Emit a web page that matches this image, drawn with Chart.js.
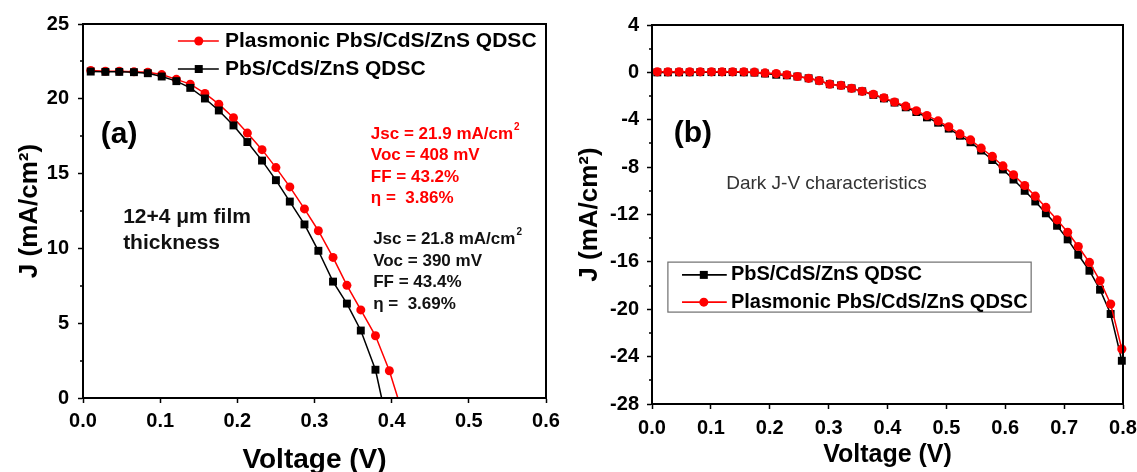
<!DOCTYPE html>
<html>
<head>
<meta charset="utf-8">
<script src="https://cdn.jsdelivr.net/npm/chart.js@4"></script>
<style>
  html, body { margin: 0; padding: 0; background: #fff; }
  #wrap { position: relative; width: 1137px; height: 472px; overflow: hidden; }
  canvas { position: absolute; top: 0; }
  #chartA { left: 0; }
  #chartB { left: 560px; }
</style>
</head>
<body>
<div id="wrap">
  <canvas id="chartA" width="560" height="472"></canvas>
  <canvas id="chartB" width="577" height="472"></canvas>
</div>
<script>
// ---- panel (a): illuminated J-V ----
const voltsA = [0.010, 0.029, 0.047, 0.066, 0.084, 0.102, 0.121, 0.139, 0.158, 0.176, 0.195,
                0.213, 0.232, 0.250, 0.268, 0.287, 0.305, 0.324, 0.342, 0.360, 0.379, 0.397];
const jPlasmonicA = [21.89, 21.84, 21.84, 21.80, 21.78, 21.62, 21.30, 20.98, 20.36, 19.64, 18.73,
                     17.71, 16.60, 15.40, 14.11, 12.64, 11.18, 9.40, 7.53, 5.89, 4.16, 1.82];
const jPlainA = [21.82, 21.80, 21.80, 21.78, 21.71, 21.49, 21.18, 20.73, 20.02, 19.22, 18.22,
                 17.11, 15.87, 14.56, 13.13, 11.60, 9.84, 7.78, 6.31, 4.51, 1.89];
const vocPlasmonic = 0.408;
const vocPlain = 0.387;
const xTicksA = [0, 0.6, 0.1];
const yTicksA = [0, 25, 5];

// ---- panel (b): dark J-V ----
const voltsB = [0.009, 0.027, 0.046, 0.064, 0.082, 0.101, 0.119, 0.137, 0.156, 0.174, 0.192,
                0.211, 0.229, 0.247, 0.266, 0.284, 0.302, 0.321, 0.339, 0.357, 0.376, 0.394,
                0.412, 0.431, 0.449, 0.467, 0.486, 0.504, 0.523, 0.541, 0.559, 0.578, 0.596,
                0.614, 0.633, 0.651, 0.669, 0.688, 0.706, 0.724, 0.743, 0.761, 0.779, 0.798];
const jPlasmonicB = [0.05, 0.05, 0.05, 0.05, 0.05, 0.05, 0.05, 0.05, 0.05, 0.02, -0.05,
                     -0.1, -0.2, -0.35, -0.5, -0.7, -1.0, -1.1, -1.35, -1.6, -1.85, -2.15,
                     -2.5, -2.85, -3.25, -3.65, -4.1, -4.6, -5.2, -5.7, -6.4, -7.1, -7.9,
                     -8.65, -9.55, -10.45, -11.4, -12.45, -13.5, -14.7, -16.05, -17.6, -19.56, -23.36];
const jPlainB = [0.0, 0.0, 0.0, 0.0, 0.02, 0.02, 0.02, 0.02, 0.0, -0.02, -0.1,
                 -0.2, -0.25, -0.35, -0.5, -0.7, -1.0, -1.1, -1.35, -1.6, -1.9, -2.2,
                 -2.55, -2.95, -3.35, -3.8, -4.25, -4.75, -5.35, -5.9, -6.6, -7.4, -8.2,
                 -9.05, -10.0, -10.9, -11.9, -12.95, -14.1, -15.4, -16.75, -18.35, -20.4, -24.35];
const xTicksB = [0, 0.8, 0.1];
const yTicksB = [-28, 4, 4];

const labelPlain = 'PbS/CdS/ZnS QDSC';
const labelPlasmonic = 'Plasmonic PbS/CdS/ZnS QDSC';

const FONT = '"Liberation Sans", Arial, sans-serif';
const RED = '#ff0000';

function toPoints(xs, ys) {
  return ys.map((y, i) => ({ x: xs[i], y: y }));
}

// draw text, "^" marks a superscript tail
function drawRich(ctx, text, x, y, size, weight, color) {
  const parts = text.split('^');
  ctx.fillStyle = color;
  ctx.textBaseline = 'middle';
  ctx.textAlign = 'left';
  ctx.font = weight + ' ' + size + 'px ' + FONT;
  ctx.fillText(parts[0], x, y);
  if (parts[1]) {
    const w = ctx.measureText(parts[0]).width;
    ctx.font = weight + ' ' + Math.round(size * 0.6) + 'px ' + FONT;
    ctx.fillText(parts[1], x + w + 1, y - size * 0.38);
  }
}

function drawMarker(ctx, style, x, y, color) {
  ctx.fillStyle = color;
  ctx.beginPath();
  if (style === 'circle') ctx.arc(x, y, 4.5, 0, Math.PI * 2);
  else ctx.rect(x - 4, y - 4, 8, 8);
  ctx.fill();
}

// frame, minor ticks, texts and legend
const decorPlugin = {
  id: 'decor',
  afterDraw(chart, args, opts) {
    const { ctx, chartArea: a, scales } = chart;
    const sx = scales.x, sy = scales.y;
    ctx.save();
    ctx.strokeStyle = '#000';
    ctx.lineWidth = 2;
    ctx.strokeRect(a.left, a.top, a.right - a.left, a.bottom - a.top);

    // minor ticks on the y axis, half way between majors
    ctx.lineWidth = 1.5;
    ctx.beginPath();
    for (let v = sy.min + opts.yStep / 2; v < sy.max; v += opts.yStep) {
      const py = Math.round(sy.getPixelForValue(v));
      ctx.moveTo(a.left, py);
      ctx.lineTo(a.left - 3, py);
    }
    ctx.stroke();

    (opts.texts || []).forEach(t => {
      drawRich(ctx, t.text, sx.getPixelForValue(t.x), sy.getPixelForValue(t.y),
               t.size, t.weight, t.color);
    });

    const lg = opts.legend;
    if (lg) {
      if (lg.box) {
        const x1 = sx.getPixelForValue(lg.box[0]), x2 = sx.getPixelForValue(lg.box[1]);
        const y1 = sy.getPixelForValue(lg.box[2]), y2 = sy.getPixelForValue(lg.box[3]);
        ctx.strokeStyle = '#6e6e6e';
        ctx.lineWidth = 1.2;
        ctx.strokeRect(x1, y1, x2 - x1, y2 - y1);
      }
      lg.items.forEach(it => {
        const py = sy.getPixelForValue(it.y);
        ctx.strokeStyle = it.color;
        ctx.lineWidth = 1.6;
        ctx.beginPath();
        ctx.moveTo(sx.getPixelForValue(lg.line[0]), py);
        ctx.lineTo(sx.getPixelForValue(lg.line[1]), py);
        ctx.stroke();
        drawMarker(ctx, it.style, sx.getPixelForValue(lg.mark), py, it.color);
        drawRich(ctx, it.label, sx.getPixelForValue(lg.textX), py, lg.size, 'bold', '#000');
      });
    }
    ctx.restore();
  }
};

function axisOpts(range, fmt, title, titleSize, titlePad, tickPad, fit) {
  return {
    type: 'linear',
    min: range[0],
    max: range[1],
    ticks: {
      stepSize: range[2],
      callback: fmt,
      font: { family: FONT, size: 20, weight: 'bold' },
      color: '#000',
      padding: tickPad,
      maxRotation: 0,
      autoSkip: false
    },
    grid: { display: true, drawOnChartArea: false, drawTicks: true, tickLength: 5, tickWidth: 1.5, tickColor: '#000' },
    border: { display: true, color: '#000', width: 2 },
    title: {
      display: true,
      text: title,
      color: '#000',
      font: { family: FONT, size: titleSize, weight: 'bold', lineHeight: 1 },
      padding: titlePad
    },
    afterFit: fit
  };
}

function lineSet(label, data, color, style, radius, order) {
  return {
    label: label,
    data: data,
    borderColor: color,
    backgroundColor: color,
    borderWidth: 1.5,
    pointStyle: style,
    pointRadius: radius,
    pointBorderWidth: 0,
    tension: 0,
    clip: false,
    order: order
  };
}

// panel (a)
const plasmonicA = toPoints(voltsA, jPlasmonicA).concat([{ x: vocPlasmonic, y: 0 }]);
const plainA = toPoints(voltsA, jPlainA).concat([{ x: vocPlain, y: 0 }]);

new Chart(document.getElementById('chartA'), {
  type: 'line',
  data: {
    datasets: [
      lineSet(labelPlain, plainA, '#000', 'rect', c => c.dataIndex < jPlainA.length ? 5.6 : 0, 0),
      lineSet(labelPlasmonic, plasmonicA, RED, 'circle', c => c.dataIndex < jPlasmonicA.length ? 4.5 : 0, 1)
    ]
  },
  options: {
    responsive: false,
    animation: false,
    events: [],
    layout: { padding: { left: 0, right: 14, top: 24, bottom: 0 } },
    plugins: {
      legend: { display: false },
      tooltip: { enabled: false },
      decor: {
        yStep: yTicksA[2],
        texts: [
          { text: '(a)', x: 0.023, y: 17.6, size: 30, weight: 'bold', color: '#000' },
          { text: 'Jsc = 21.9 mA/cm^2', x: 0.373, y: 17.65, size: 17, weight: 'bold', color: RED },
          { text: 'Voc = 408 mV', x: 0.373, y: 16.24, size: 17, weight: 'bold', color: RED },
          { text: 'FF = 43.2%', x: 0.373, y: 14.77, size: 17, weight: 'bold', color: RED },
          { text: '\u03b7 =  3.86%', x: 0.373, y: 13.37, size: 17, weight: 'bold', color: RED },
          { text: 'Jsc = 21.8 mA/cm^2', x: 0.376, y: 10.63, size: 17, weight: 'bold', color: '#111' },
          { text: 'Voc = 390 mV', x: 0.376, y: 9.16, size: 17, weight: 'bold', color: '#111' },
          { text: 'FF = 43.4%', x: 0.376, y: 7.75, size: 17, weight: 'bold', color: '#111' },
          { text: '\u03b7 =  3.69%', x: 0.376, y: 6.28, size: 17, weight: 'bold', color: '#111' },
          { text: '12+4 \u03bcm film', x: 0.052, y: 12.1, size: 21, weight: 'bold', color: '#111' },
          { text: 'thickness', x: 0.052, y: 10.35, size: 21, weight: 'bold', color: '#111' }
        ],
        legend: {
          line: [0.123, 0.176], mark: 0.150, textX: 0.184, size: 21,
          items: [
            { label: labelPlasmonic, color: RED, style: 'circle', y: 23.86 },
            { label: labelPlain, color: '#000', style: 'rect', y: 21.99 }
          ]
        }
      }
    },
    scales: {
      x: axisOpts(xTicksA, v => v.toFixed(1), 'Voltage (V)', 28, { top: 0, bottom: -2 }, 6,
        s => { s.height = 74; s.paddingLeft = 0; s.paddingRight = 0; }),
      y: axisOpts(yTicksA, v => String(v), 'J (mA/cm\u00b2)', 26, { top: 17, bottom: 0 }, 9,
        s => { s.width = 83; s.paddingTop = 0; s.paddingBottom = 0; })
    }
  },
  plugins: [decorPlugin]
});

// panel (b)
new Chart(document.getElementById('chartB'), {
  type: 'line',
  data: {
    datasets: [
      lineSet(labelPlain, toPoints(voltsB, jPlainB), '#000', 'rect', 5.6, 1),
      lineSet(labelPlasmonic, toPoints(voltsB, jPlasmonicB), RED, 'circle', 4.6, 0)
    ]
  },
  options: {
    responsive: false,
    animation: false,
    events: [],
    layout: { padding: { left: 0, right: 14, top: 25, bottom: 0 } },
    plugins: {
      legend: { display: false },
      tooltip: { enabled: false },
      decor: {
        yStep: yTicksB[2],
        texts: [
          { text: '(b)', x: 0.037, y: -5.2, size: 30, weight: 'bold', color: '#000' },
          { text: 'Dark J-V characteristics', x: 0.126, y: -9.43, size: 19, weight: 'normal', color: '#333' }
        ],
        legend: {
          box: [0.027, 0.644, -16.02, -20.24],
          line: [0.051, 0.127], mark: 0.088, textX: 0.134, size: 20,
          items: [
            { label: labelPlain, color: '#000', style: 'rect', y: -17.1 },
            { label: labelPlasmonic, color: RED, style: 'circle', y: -19.4 }
          ]
        }
      }
    },
    scales: {
      x: axisOpts(xTicksB, v => v.toFixed(1), 'Voltage (V)', 25, { top: 0, bottom: 4 }, 7,
        s => { s.height = 68; s.paddingLeft = 0; s.paddingRight = 0; }),
      y: axisOpts(yTicksB, v => String(v), 'J (mA/cm\u00b2)', 26, { top: 17, bottom: 0 }, 8,
        s => { s.width = 92; s.paddingTop = 0; s.paddingBottom = 0; })
    }
  },
  plugins: [decorPlugin]
});
</script>
</body>
</html>
